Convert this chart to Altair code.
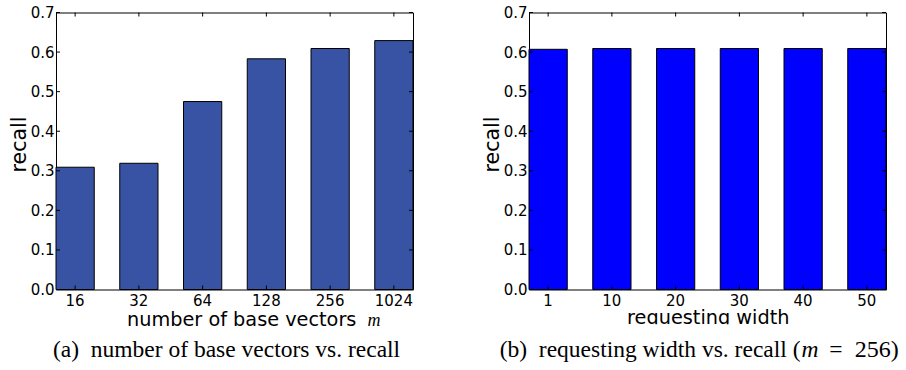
import altair as alt
import pandas as pd

# ---- data ----
M_LABELS = ["16", "32", "64", "128", "256", "1024"]
M_RECALL = [0.309, 0.319, 0.475, 0.583, 0.609, 0.629]
W_LABELS = ["1", "10", "20", "30", "40", "50"]
W_RECALL = [0.607, 0.609, 0.609, 0.609, 0.609, 0.609]
Y_TICKS = [0.0, 0.1, 0.2, 0.3, 0.4, 0.5, 0.6, 0.7]

CAPTION_A = "(a)\u2002number of base vectors vs. recall"
CAPTION_B = "(b)\u2002requesting width vs. recall ("
CAPTION_B_EQ = "="
CAPTION_B_END = "256)"

W, H = 357, 277
SANS = "DejaVu Sans"
SERIF = "Liberation Serif"


def panel(labels, values, color, kind):
    df = pd.DataFrame({"cat": labels, "recall": values})
    ticks = pd.DataFrame({"recall": Y_TICKS})
    one = pd.DataFrame({"k": [0]})

    xscale = alt.Scale(paddingInner=0.4, paddingOuter=0)
    xaxis = alt.Axis(title=None, labelAngle=0, ticks=False, labelFont=SANS,
                     labelFontSize=15, labelColor="black", labelPadding=4,
                     labelOverlap=False,
                     domainColor="#808080", domainWidth=1, grid=False)
    yscale = alt.Scale(domain=[0, 0.7], nice=False, zero=True)
    yaxis = alt.Axis(values=Y_TICKS, format=".1f", ticks=False, grid=False,
                     labelOverlap=False, labelFlush=False, labelBound=False,
                     labelFont=SANS, labelFontSize=15, labelColor="black",
                     labelPadding=2, domainColor="black", tickCount=8,
                     title="recall", titleFont=SANS, titleFontSize=20.5,
                     titleFontWeight="normal", titleColor="black", titlePadding=1,
                     titleY=131.5)

    x = alt.X("cat:N", sort=labels, scale=xscale, axis=xaxis)
    xb = alt.X("cat:N", sort=labels, scale=xscale, axis=xaxis, bandPosition=0.5)
    y = alt.Y("recall:Q", scale=yscale, axis=yaxis)

    bars = alt.Chart(df).mark_bar(fill=color, stroke="black", strokeWidth=1).encode(x=x, y=y)

    xt_bot = alt.Chart(df).mark_rule(color="black", strokeWidth=1).encode(
        x=xb, y=alt.value(H), y2=alt.value(H - 4))
    xt_top = alt.Chart(df).mark_rule(color="black", strokeWidth=1).encode(
        x=xb, y=alt.value(0), y2=alt.value(4))
    yt_left = alt.Chart(ticks).mark_rule(color="black", strokeWidth=1).encode(
        y=y, x=alt.value(0), x2=alt.value(4))
    yt_right = alt.Chart(ticks).mark_rule(color="black", strokeWidth=1).encode(
        y=y, x=alt.value(W), x2=alt.value(W - 4))

    layers = [bars, xt_bot, xt_top, yt_left, yt_right]

    def txt(s, x, y, size, font=SERIF, align="left", style="normal"):
        return alt.Chart(one).mark_text(
            text=s, font=font, fontSize=size, align=align, fontStyle=style,
            baseline="alphabetic", color="black").encode(x=alt.value(x), y=alt.value(y))

    if kind == "a":
        layers.append(txt("number of base vectors", 71, 313.7, 19.3, font=SANS))
        layers.append(txt("m", 311.5, 313.7, 18, style="italic"))
        layers.append(txt(CAPTION_A, -3, 344.7, 23.5))
    else:
        layers.append(txt("requesting width", 179.3, 311.4, 19.3, font=SANS, align="center"))
        layers.append(alt.Chart(one).mark_rect(fill="white").encode(
            x=alt.value(60), x2=alt.value(300), y=alt.value(311.8), y2=alt.value(322)))
        layers.append(txt(CAPTION_B, 271.5, 344.7, 23.5, align="right"))
        layers.append(txt("m", 272.5, 344.7, 23.5, style="italic"))
        layers.append(txt(CAPTION_B_EQ, 300.3, 344.7, 23.5))
        layers.append(txt(CAPTION_B_END, 325.8, 344.7, 24))

    return alt.layer(*layers).properties(width=W, height=H)


left = panel(M_LABELS, M_RECALL, "#3953A4", "a")
right = panel(W_LABELS, W_RECALL, "#0000FF", "b")

chart = alt.hconcat(left, right, spacing=66).configure(
    padding={"left": 8, "top": 4.5, "right": 0, "bottom": 0},
    background="white",
).configure_view(stroke="black", strokeWidth=1)

chart.save("out.html", embed_options={"renderer": "svg", "actions": False})
